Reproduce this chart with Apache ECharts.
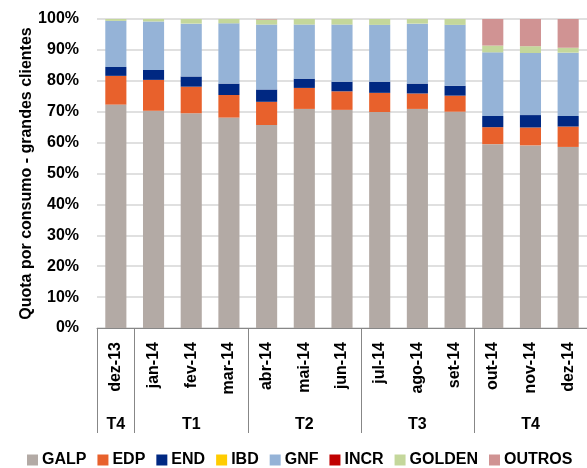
<!DOCTYPE html>
<html>
<head>
<meta charset="utf-8">
<script src="https://cdn.jsdelivr.net/npm/echarts@6/dist/echarts.min.js"></script>
<style>
  html, body { margin: 0; padding: 0; background: #fff; }
  #chart { width: 587px; height: 468px; }
</style>
</head>
<body>
<div id="chart"></div>
<script>
const months = ['dez-13', 'jan-14', 'fev-14', 'mar-14', 'abr-14', 'mai-14', 'jun-14',
                'jul-14', 'ago-14', 'set-14', 'out-14', 'nov-14', 'dez-14'];
// quarter label shown under the middle month of each group
const quarters = ['T4', '', 'T1', '', '', 'T2', '', '', 'T3', '', '', 'T4', ''];
// month index where a group starts (separator line)
const groupStarts = [0, 1, 4, 7, 10];

const galp   = [72.3, 70.3, 69.5, 68.1, 65.7, 70.9, 70.6, 69.9, 70.9, 70.0, 59.5, 59.1, 58.6];
const edp    = [9.3, 10.0, 8.6, 7.3, 7.5, 6.8, 6.0, 6.2, 5.0, 5.2, 5.5, 5.8, 6.6];
const endS   = [2.9, 3.2, 3.3, 3.7, 4.0, 3.0, 3.1, 3.6, 3.2, 3.2, 3.6, 4.0, 3.4];
const ibd    = [0, 0, 0, 0, 0, 0, 0, 0, 0, 0, 0, 0, 0];
const gnf    = [14.9, 15.7, 17.1, 19.5, 21.0, 17.5, 18.5, 18.4, 19.4, 19.7, 20.6, 20.1, 20.5];
const incr   = [0, 0, 0, 0, 0, 0, 0, 0, 0, 0, 0, 0, 0];
const golden = [0.6, 0.8, 1.5, 1.4, 1.6, 1.8, 1.8, 1.9, 1.5, 1.9, 2.2, 2.2, 1.6];
const outros = [0, 0, 0, 0, 0.2, 0, 0, 0, 0, 0, 8.6, 8.8, 9.3];

const yTicks = [0, 10, 20, 30, 40, 50, 60, 70, 80, 90, 100];

const font = '"Liberation Sans", Arial, sans-serif';

const seriesDefs = [
    ['GALP', galp, '#b3aaa5'],
    ['EDP', edp, '#e8612c'],
    ['END', endS, '#002882'],
    ['IBD', ibd, '#ffcc00'],
    ['GNF', gnf, '#95b3d7'],
    ['INCR', incr, '#c00000'],
    ['GOLDEN', golden, '#c4d79b'],
    ['OUTROS', outros, '#d09393']
];

const chart = echarts.init(document.getElementById('chart'), null, { renderer: 'canvas' });

chart.setOption({
    animation: false,
    textStyle: { fontFamily: font },
    grid: { left: 97, right: -5, top: 19, bottom: 140 },
    legend: {
        bottom: -5,
        left: 22,
        itemWidth: 11,
        itemHeight: 11,
        itemGap: 11,
        icon: 'rect',
        textStyle: { fontSize: 16, fontWeight: 'bold', color: '#000', fontFamily: font, padding: [0, 0, 0, -1] },
        data: seriesDefs.map(d => d[0])
    },
    xAxis: [
        {
            type: 'category',
            data: months,
            axisLine: { lineStyle: { color: '#878787', width: 1 } },
            axisTick: {
                show: true,
                length: 105,
                lineStyle: { color: '#878787' },
                interval: (index) => groupStarts.indexOf(index) >= 0
            },
            axisLabel: {
                rotate: 90,
                interval: 0,
                margin: 14,
                fontSize: 16,
                fontWeight: 'bold',
                color: '#000'
            }
        },
        {
            type: 'category',
            data: quarters,
            position: 'bottom',
            axisLine: { show: false },
            axisTick: { show: false },
            axisLabel: {
                interval: 0,
                margin: 89,
                fontSize: 16,
                fontWeight: 'bold',
                color: '#000'
            }
        }
    ],
    yAxis: {
        type: 'value',
        min: yTicks[0],
        max: yTicks[yTicks.length - 1],
        interval: 10,
        name: 'Quota por consumo - grandes clientes',
        nameLocation: 'middle',
        nameGap: 62,
        nameMoveOverlap: false,
        nameTextStyle: { fontSize: 16, fontWeight: 'bold', color: '#000' },
        axisLine: { show: false },
        axisTick: { show: false },
        axisLabel: {
            margin: 18,
            fontSize: 16,
            fontWeight: 'bold',
            color: '#000',
            formatter: '{value}%'
        },
        splitLine: { lineStyle: { color: '#d6d6d6', width: 1.5 } }
    },
    series: seriesDefs.map(d => ({
        name: d[0],
        type: 'bar',
        stack: 'total',
        xAxisIndex: 0,
        barWidth: '56%',
        data: d[1],
        itemStyle: { color: d[2] }
    }))
});
</script>
</body>
</html>
